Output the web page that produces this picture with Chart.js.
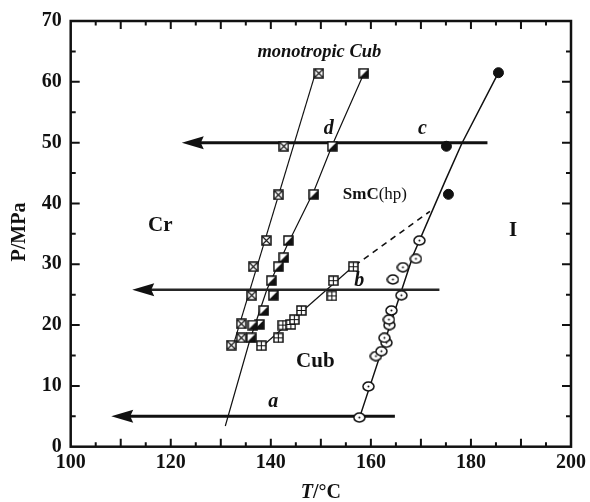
<!DOCTYPE html>
<html>
<head>
<meta charset="utf-8">
<script src="https://cdn.jsdelivr.net/npm/chart.js@4.4.1/dist/chart.umd.min.js"></script>
<style>
  html, body { margin: 0; padding: 0; background: #fff; }
</style>
</head>
<body>
<canvas id="chart" width="590" height="502"></canvas>
<script>
/* Pressure / temperature phase diagram. Marker sets + guide lines, arrows
   a-d drawn on top. */

const SERIF = '"Liberation Serif", "Times New Roman", serif';
const INK = "#111";

// axis range
const xMin = 100, xMax = 200, xStep = 20;
const yMin = 0, yMax = 70, yStep = 10;

// crossed squares (Cr -> monotropic Cub)
const crossT = [149.6, 142.6, 141.5, 139.1, 136.5, 136.2, 134.1, 134.1, 132.1];
const crossP = [61.4, 49.4, 41.4, 33.9, 29.6, 24.9, 20.2, 17.9, 16.7];

// half-filled squares (Cub -> SmC(hp))
const halfT = [158.6, 152.3, 148.6, 143.5, 142.6, 141.5, 140.1, 140.5, 138.6, 137.7, 136.4, 136.1];
const halfP = [61.4, 49.4, 41.5, 33.9, 31.1, 29.6, 27.3, 24.9, 22.4, 20.1, 20.0, 17.9];

// gridded squares (Cr -> Cub)
const gridT = [138.1, 141.5, 142.4, 144.0, 144.7, 146.1, 152.2, 152.5, 156.5];
const gridP = [16.6, 17.9, 20.0, 20.1, 20.9, 22.4, 24.8, 27.3, 29.6];

// dotted circles (Cub -> I)
const circT = [157.7, 159.5, 161.0, 162.1, 163.1, 162.7, 163.7, 163.6, 164.1, 166.1, 164.4, 166.4, 169.0, 169.7];
const circP = [4.8, 9.9, 14.9, 15.7, 17.1, 17.9, 20.0, 20.9, 22.4, 24.9, 27.5, 29.5, 30.9, 33.9];

// filled circles (SmC(hp) -> I)
const dotT = [185.5, 175.1, 175.5];
const dotP = [61.5, 49.4, 41.5];

// guide lines
const lineCrT = [132.6, 148.9];
const lineCrP = [17.0, 61.4];
const lineDT = [130.9, 135.8, 139.2, 143.2, 148.6, 152.4, 158.4];
const lineDP = [3.4, 17.5, 25.8, 33.0, 42.0, 49.8, 61.0];
const lineBT = [138.7, 156.4];
const lineBP = [16.8, 29.6];
const dashT = [156.8, 171.8];
const dashP = [29.8, 38.7];
const lineIT = [157.7, 168.5, 174.9, 178.2, 185.5];
const lineIP = [4.7, 31.6, 43.8, 49.9, 61.5];

// isobaric arrows a, b, c (start -> tip)
const arrowP = [5, 25.8, 50];
const arrowFrom = [164.8, 173.7, 183.3];
const arrowTip = [108.1, 112.3, 122.2];

// text annotations
const labelText = ["monotropic Cub", "d", "c", "b", "a", "Cr", "Cub", "I"];
const labelT = [149.7, 151.6, 170.3, 157.7, 140.5, 117.9, 148.9, 188.4];
const labelP = [64.0, 51.4, 51.4, 26.5, 6.5, 35.4, 13.1, 34.7];
const labelItalic = [true, true, true, true, true, false, false, false];
const labelSize = [18.5, 20, 20, 20, 20, 21, 21, 21];

const pts = (xs, ys) => xs.map((x, i) => ({ x, y: ys[i] }));

function makeMarker(kind) {
  const c = document.createElement("canvas");
  const w = kind === "circle" ? 13 : 11, h = kind === "circle" ? 11 : 11;
  c.width = w; c.height = h;
  const g = c.getContext("2d");
  g.strokeStyle = INK; g.fillStyle = "#fff"; g.lineWidth = 1.5;
  if (kind === "circle") {
    g.beginPath(); g.ellipse(6.5, 5.5, 5.5, 4.4, 0, 0, Math.PI * 2); g.fill(); g.stroke();
    g.fillStyle = INK; g.beginPath(); g.arc(6.5, 5.5, 1, 0, Math.PI * 2); g.fill();
    return c;
  }
  g.fillRect(1, 1, 9, 9);
  if (kind === "half") {
    g.fillStyle = INK;
    g.beginPath(); g.moveTo(1, 10); g.lineTo(10, 1); g.lineTo(10, 10); g.closePath(); g.fill();
  }
  g.strokeRect(1, 1, 9, 9);
  g.lineWidth = 1.1;
  g.beginPath();
  if (kind === "cross") { g.moveTo(1.5, 1.5); g.lineTo(9.5, 9.5); g.moveTo(9.5, 1.5); g.lineTo(1.5, 9.5); }
  if (kind === "grid") { g.moveTo(5.5, 1); g.lineTo(5.5, 10); g.moveTo(1, 5.5); g.lineTo(10, 5.5); }
  g.stroke();
  return c;
}

const lineDs = (xs, ys, extra) => Object.assign({
  data: pts(xs, ys), showLine: true, borderColor: INK, borderWidth: 1.2,
  pointRadius: 0, fill: false, order: 2
}, extra || {});
const markDs = (xs, ys, style) => ({
  data: pts(xs, ys), showLine: false, pointStyle: style, pointRadius: 5,
  pointBorderColor: INK, pointBackgroundColor: INK, order: 0
});

const datasets = [
  lineDs(lineCrT, lineCrP),
  lineDs(lineDT, lineDP),
  lineDs(lineBT, lineBP),
  lineDs(dashT, dashP, { borderDash: [6, 5], borderWidth: 1.6 }),
  lineDs(lineIT, lineIP, { borderWidth: 1.5 }),
  markDs(crossT, crossP, makeMarker("cross")),
  markDs(halfT, halfP, makeMarker("half")),
  markDs(gridT, gridP, makeMarker("grid")),
  markDs(circT, circP, makeMarker("circle")),
  markDs(dotT, dotP, "circle")
];
arrowP.forEach((p, i) => {
  datasets.push(lineDs([arrowFrom[i], arrowTip[i] + 3], [p, p], {
    borderWidth: i === 1 ? 2.6 : 3, borderColor: i === 1 ? "#262626" : INK, order: 1
  }));
});

const framePlugin = {
  id: "frame",
  afterDraw(chart) {
    const { ctx, chartArea: a, scales: { x, y } } = chart;
    ctx.save();
    ctx.strokeStyle = INK; ctx.fillStyle = INK;
    // arrowheads
    arrowP.forEach((p, i) => {
      const tx = x.getPixelForValue(arrowTip[i]), ty = y.getPixelForValue(p);
      ctx.beginPath();
      ctx.moveTo(tx, ty); ctx.lineTo(tx + 22, ty - 6.5); ctx.lineTo(tx + 19, ty); ctx.lineTo(tx + 22, ty + 6.5);
      ctx.closePath(); ctx.fill();
    });
    // text labels
    ctx.textAlign = "center"; ctx.textBaseline = "alphabetic";
    labelText.forEach((t, i) => {
      ctx.font = (labelItalic[i] ? "italic " : "") + "bold " + labelSize[i] + "px " + SERIF;
      ctx.fillText(t, x.getPixelForValue(labelT[i]), y.getPixelForValue(labelP[i]));
    });
    // SmC(hp): bold + regular
    {
      ctx.textAlign = "left";
      const cx = x.getPixelForValue(160.8), by = y.getPixelForValue(40.7);
      ctx.font = "bold 17px " + SERIF; const w1 = ctx.measureText("SmC").width;
      ctx.font = "17px " + SERIF; const w2 = ctx.measureText("(hp)").width;
      const x0 = cx - (w1 + w2) / 2;
      ctx.font = "bold 17px " + SERIF; ctx.fillText("SmC", x0, by);
      ctx.font = "17px " + SERIF; ctx.fillText("(hp)", x0 + w1, by);
    }
    // frame
    ctx.lineWidth = 2.5;
    ctx.strokeRect(a.left, a.top, a.right - a.left, a.bottom - a.top);
    // inward ticks on all four sides
    ctx.lineWidth = 2;
    ctx.beginPath();
    for (let v = xMin + 5; v < xMax; v += 5) {
      const px = x.getPixelForValue(v), len = v % 10 === 0 ? 8 : 4.5;
      ctx.moveTo(px, a.bottom); ctx.lineTo(px, a.bottom - len);
      ctx.moveTo(px, a.top); ctx.lineTo(px, a.top + len);
    }
    for (let v = yMin + 5; v < yMax; v += 5) {
      const py = y.getPixelForValue(v), len = v % 10 === 0 ? 9 : 5;
      ctx.moveTo(a.left, py); ctx.lineTo(a.left + len, py);
      ctx.moveTo(a.right, py); ctx.lineTo(a.right - len, py);
    }
    ctx.stroke();
    // axis titles
    ctx.textAlign = "left";
    ctx.font = "italic bold 20px " + SERIF; const wT = ctx.measureText("T").width;
    ctx.font = "bold 20px " + SERIF; const wR = ctx.measureText("/\u00B0C").width;
    const xc = (a.left + a.right) / 2, x0 = xc - (wT + wR) / 2;
    ctx.font = "italic bold 20px " + SERIF; ctx.fillText("T", x0, 498);
    ctx.font = "bold 20px " + SERIF; ctx.fillText("/\u00B0C", x0 + wT, 498);
    ctx.translate(25, 232); ctx.rotate(-Math.PI / 2);
    ctx.textAlign = "center";
    ctx.fillText("P/MPa", 0, 0);
    ctx.restore();
  }
};

new Chart(document.getElementById("chart"), {
  type: "scatter",
  data: { datasets },
  options: {
    responsive: false, animation: false, devicePixelRatio: 1,
    layout: { padding: { top: 20, right: 15, left: 0, bottom: 0 } },
    plugins: { legend: { display: false }, tooltip: { enabled: false } },
    scales: {
      x: {
        type: "linear", min: xMin, max: xMax,
        grid: { display: false, drawTicks: false }, border: { display: false },
        ticks: { stepSize: xStep, padding: 4, color: INK, font: { family: SERIF, size: 20, weight: "bold" } },
        afterFit: (s) => { s.height = 55.3; }
      },
      y: {
        type: "linear", min: yMin, max: yMax,
        grid: { display: false, drawTicks: false }, border: { display: false },
        ticks: { stepSize: yStep, padding: 9, color: INK, font: { family: SERIF, size: 20, weight: "bold" } },
        afterFit: (s) => { s.width = 70.7; }
      }
    }
  },
  plugins: [framePlugin]
});
</script>
</body>
</html>
